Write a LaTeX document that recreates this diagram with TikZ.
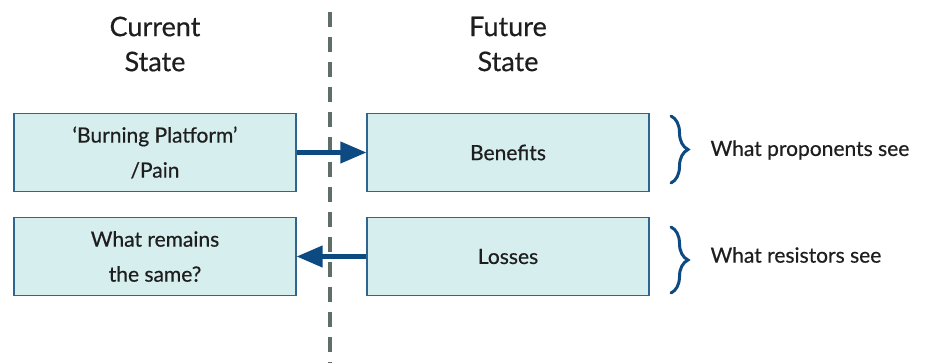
\documentclass[tikz,border=0pt]{standalone}
\usepackage{fontspec}
\setmainfont{Lato}[FakeBold=0.5]
\usetikzlibrary{arrows.meta,decorations.pathreplacing}
\definecolor{boxfill}{HTML}{D7EEEE}
\definecolor{boxline}{HTML}{2F6690}
\definecolor{arrowblue}{HTML}{0D4A82}
\definecolor{dashgrey}{HTML}{5F6E66}
\definecolor{txt}{HTML}{1E1E1E}
\tikzset{
  statebox/.style={draw=boxline, line width=1.2pt, fill=boxfill, minimum width=282pt, minimum height=78pt, inner sep=0pt, align=center, font=\fontsize{21}{35}\selectfont, text=txt},
  heading/.style={align=center, font=\fontsize{27}{35}\selectfont, text=txt},
  sidelabel/.style={anchor=west, font=\fontsize{21}{24}\selectfont, text=txt},
  arr/.style={draw=arrowblue, line width=4.2pt, -{Triangle[length=26pt,width=21pt]}},
  divider/.style={draw=dashgrey, line width=4.5pt, dash pattern=on 15pt off 10pt},
  bracestyle/.style={draw=arrowblue, line width=3pt, line cap=round, decorate, decoration={brace, amplitude=17pt, aspect=0.5}}
}
\begin{document}
\begin{tikzpicture}[x=1pt,y=-1pt]
\useasboundingbox (0,0) rectangle (925,362);
\coordinate (dtop) at (330,12);
\coordinate (dbot) at (330,365);
\draw[divider] (dtop) -- (dbot);
\node[heading] (hcur) at (155,44) {Current\\State};
\node[heading] (hfut) at (508,44) {Future\\State};
\node[statebox] (cur1) at (155,152.5) {‘Burning Platform’\\/Pain};
\node[statebox] (cur2) at (155,256.5) {What remains\\the same?};
\node[statebox] (fut1) at (508,152.5) {Benefits};
\node[statebox] (fut2) at (508,256.5) {Losses};
\draw[arr] (cur1.east) -- (fut1.west);
\draw[arr] (fut2.west) -- (cur2.east);
\coordinate (b1t) at (671,116);
\coordinate (b1b) at (671,183);
\coordinate (b2t) at (671,227);
\coordinate (b2b) at (671,293);
\draw[bracestyle] (b1t) -- (b1b);
\draw[bracestyle] (b2t) -- (b2b);
\node[sidelabel] (lprop) at (707,150) {What proponents see};
\node[sidelabel] (lres) at (707,255) {What resistors see};
\end{tikzpicture}
\end{document}
